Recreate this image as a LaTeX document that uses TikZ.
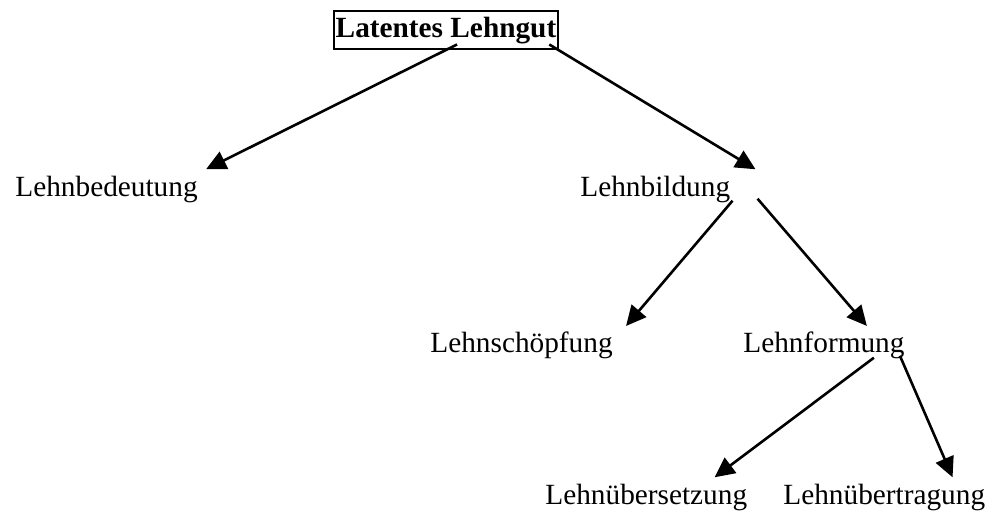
\documentclass[tikz,border=0pt]{standalone}
\usepackage{fontspec}
\setmainfont{Liberation Serif}
\usepackage{tikz}
\usetikzlibrary{arrows.meta}

\begin{document}
\begin{tikzpicture}
      [x=0.5pt,y=-0.5pt,
       word/.style={inner sep=0pt,anchor=base west,font=\fontsize{14.65}{17}\selectfont},
       arr/.style={line width=1.3pt,-{Triangle[length=10pt,width=9.5pt]}}]
    \useasboundingbox (0,0) rectangle (996,510);
    \node[draw,line width=1pt,inner xsep=1pt,inner ysep=3pt,anchor=base,
          font=\fontsize{14.65}{17}\selectfont\bfseries] (top) at (446,37) {Latentes Lehngut};
    \node[word] (bed)  at (15,196)  {Lehnbedeutung};
    \node[word] (bild) at (580,196) {Lehnbildung};
    \node[word] (sch)  at (430,352) {Lehnschöpfung};
    \node[word] (form) at (743,352) {Lehnformung};
    \node[word] (uset) at (545,504) {Lehnübersetzung};
    \node[word] (utra) at (783,504) {Lehnübertragung};

    \draw[arr] ([xshift=5.5pt,yshift=3pt]top.south) -- ([xshift=4pt,yshift=3pt]bed.north east);
    \draw[arr] ([xshift=-5pt,yshift=3pt]top.south east) -- ([xshift=12.5pt,yshift=3pt]bild.north east);
    \draw[arr] ([xshift=1pt,yshift=1pt]bild.south east) -- ([xshift=6.5pt,yshift=2.5pt]sch.north east);
    \draw[arr] ([xshift=13.5pt,yshift=2pt]bild.south east) -- ([xshift=-19pt,yshift=2.5pt]form.north east);
    \draw[arr] ([xshift=-15.5pt,yshift=0.5pt]form.south east) -- ([xshift=-16.5pt,yshift=3pt]uset.north east);
    \draw[arr] ([xshift=-2.5pt,yshift=1.5pt]form.south east) -- ([xshift=-16.5pt,yshift=3pt]utra.north east);
    \end{tikzpicture}
\end{document}
